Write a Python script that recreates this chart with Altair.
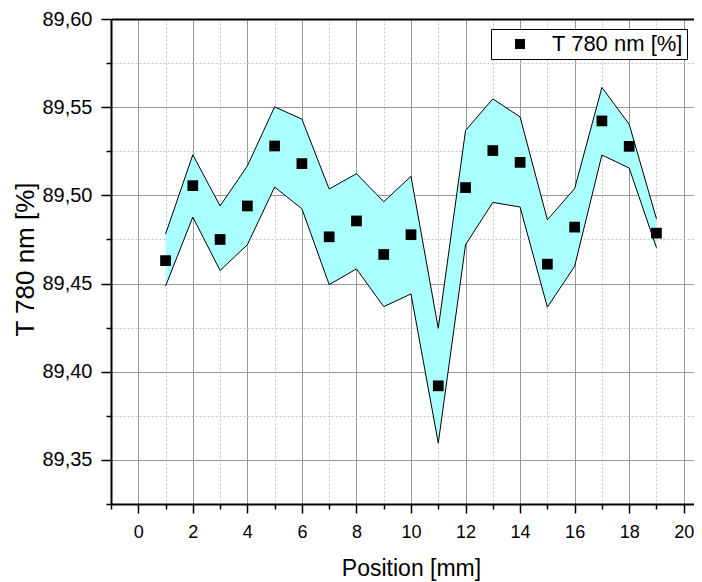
import altair as alt
import pandas as pd

positions = list(range(1, 20))
t_mean = [89.463, 89.5055, 89.475, 89.494, 89.528, 89.518, 89.4765, 89.4855, 89.4665, 89.4777,
          89.392, 89.5044, 89.5254, 89.5187, 89.461, 89.482, 89.5422, 89.5278, 89.4786]
t_upper = [89.478, 89.523, 89.494, 89.5167, 89.5502, 89.5432, 89.5036, 89.5123, 89.4964, 89.5108,
           89.4246, 89.5368, 89.5547, 89.5445, 89.4862, 89.5038, 89.5612, 89.5403, 89.4867]
t_lower = [89.4485, 89.4877, 89.4574, 89.472, 89.5047, 89.4924, 89.4494, 89.4583, 89.4369, 89.4441,
           89.3595, 89.472, 89.496, 89.4934, 89.4366, 89.4598, 89.5229, 89.5155, 89.4703]
series_name = "T 780 nm [%]"

x_major = list(range(0, 21, 2))
x_minor = list(range(-1, 22, 2))
y_major = [89.35, 89.40, 89.45, 89.50, 89.55, 89.60]
y_minor = [89.325, 89.375, 89.425, 89.475, 89.525, 89.575]

df = pd.DataFrame({
    "pos": positions,
    "mean": t_mean,
    "upper": t_upper,
    "lower": t_lower,
    "series": [series_name] * len(positions),
})

FONT = "Liberation Sans"
xscale = alt.Scale(domain=[-1, 21], range=[0, 600], nice=False, zero=False)
yscale = alt.Scale(domain=[89.325, 89.60], nice=False, zero=False)

base = alt.Chart(df)

minor = base.mark_point(opacity=0).encode(
    x=alt.X("pos:Q", scale=xscale, axis=alt.Axis(
        orient="bottom", values=x_minor, tickSize=5, tickWidth=1.5, tickColor="black",
        labels=False, domain=False, title=None, grid=True, gridColor="#c4c4c4",
        gridDash=[2, 2], gridWidth=1)),
    y=alt.Y("mean:Q", scale=yscale, axis=alt.Axis(
        orient="left", values=y_minor, tickSize=5, tickWidth=1.5, tickColor="black",
        labels=False, domain=False, title=None, grid=True, gridColor="#c4c4c4",
        gridDash=[2, 2], gridWidth=1)),
)

band = base.mark_area(color="#aaffff", opacity=1).encode(
    x=alt.X("pos:Q", scale=xscale, axis=alt.Axis(
        orient="bottom", values=x_major, tickSize=9, tickWidth=1.5, tickColor="black",
        domain=True, domainColor="black", domainWidth=2,
        labelFontSize=18, labelFont=FONT, labelColor="black", labelPadding=10,
        title="Position [mm]", titleFont=FONT, titleFontSize=23, titleFontWeight="normal",
        titleColor="black", titleX=300, titleY=71, titleBaseline="alphabetic",
        grid=True, gridColor="#999999", gridWidth=1)),
    y=alt.Y("lower:Q", scale=yscale, axis=alt.Axis(
        orient="left", values=y_major, tickSize=10, tickWidth=1.5, tickColor="black",
        domain=True, domainColor="black", domainWidth=2,
        labelFontSize=20, labelFont=FONT, labelColor="black", labelPadding=9,
        labelExpr="replace(format(datum.value, '.2f'), '.', ',')",
        title="T 780 nm [%]", titleFont=FONT, titleFontSize=26, titleFontWeight="normal",
        titleColor="black", titleX=-78, titleY=240, titleBaseline="alphabetic",
        grid=True, gridColor="#999999", gridWidth=1)),
    y2="upper:Q",
)

upper_line = base.mark_line(color="black", strokeWidth=1).encode(
    x=alt.X("pos:Q", scale=xscale, axis=alt.Axis(
        orient="top", ticks=False, labels=False, grid=False, title=None,
        domain=True, domainColor="black", domainWidth=2)),
    y=alt.Y("upper:Q", scale=yscale, axis=None),
)

lower_line = base.mark_line(color="black", strokeWidth=1).encode(
    x=alt.X("pos:Q", scale=xscale, axis=None),
    y=alt.Y("lower:Q", scale=yscale, axis=None),
)

points = base.mark_square(size=115, opacity=1, filled=True).encode(
    x=alt.X("pos:Q", scale=xscale, axis=None),
    y=alt.Y("mean:Q", scale=yscale, axis=None),
    color=alt.Color("series:N", scale=alt.Scale(range=["black"]), legend=alt.Legend(
        orient="none", legendX=380, legendY=10, title=None,
        symbolType="square", symbolSize=100, symbolFillColor="black", symbolStrokeWidth=0,
        symbolOffset=14, labelOffset=21,
        labelFont=FONT, labelFontSize=22, labelColor="black",
        padding=4, strokeColor="black", fillColor="white", cornerRadius=0)),
)

chart = alt.layer(minor, band, upper_line, lower_line, points).resolve_axis(
    x="independent", y="independent"
).properties(
    width=583, height=485,
    autosize=alt.AutoSizeParams(type="none"),
    padding={"left": 103, "top": 11, "right": 0, "bottom": 77},
).configure_view(strokeWidth=0).configure(background="white")

chart.save("out.html", embed_options={"renderer": "svg", "actions": False})
